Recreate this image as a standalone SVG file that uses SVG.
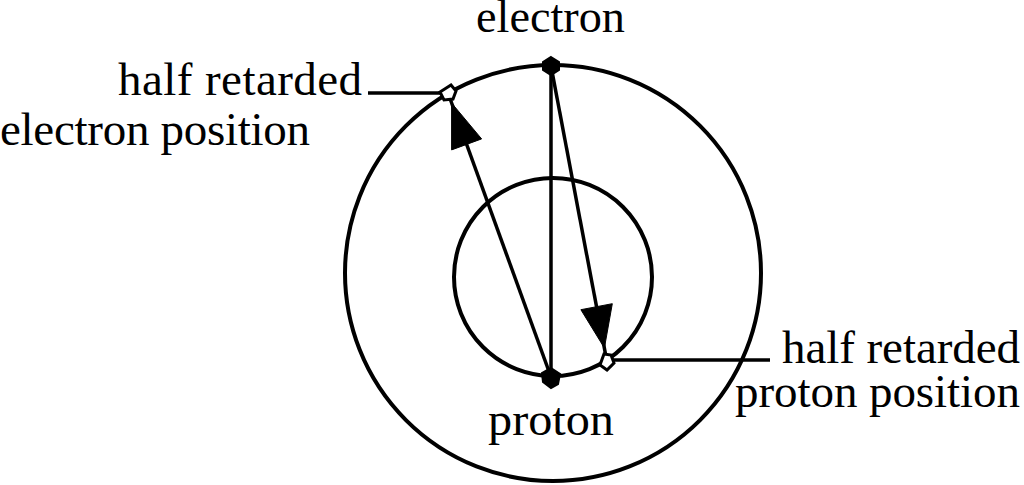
<svg xmlns="http://www.w3.org/2000/svg" width="1024" height="485" viewBox="0 0 1024 485">
<style>
.orbit{fill:none;stroke:#000;stroke-width:4}
.ln{fill:none;stroke:#000;stroke-width:3.5}
.ah{fill:#000;stroke:#000;stroke-width:1}
.t{font-family:"Liberation Serif","Times New Roman",serif;font-size:47px;fill:#000}
.dot{fill:#000;stroke:#000;stroke-width:2}
.open{fill:#fff;stroke:#000;stroke-width:3}
</style>
<rect width="1024" height="485" fill="#fff"/>
<g id="outer-orbit"><circle class="orbit" cx="553" cy="273" r="208"/></g>
<g id="inner-orbit"><circle class="orbit" cx="553" cy="277" r="99"/></g>
<g id="connectors">
<line class="ln" x1="551" y1="66" x2="551" y2="377"/>
<line class="ln" x1="551" y1="66" x2="607" y2="362"/>
<line class="ln" x1="551" y1="377" x2="448" y2="93"/>
<polygon class="ah" points="604.4,348 612.3,303.7 580.9,309.7"/>
<polygon class="ah" points="451.6,103 481.6,138.9 451.6,149.9"/>
<line class="ln" x1="368" y1="93" x2="442" y2="93"/>
<line class="ln" x1="613" y1="360" x2="770" y2="360"/>
</g>
<g id="electron">
<polygon class="dot" points="551,57 559,62 559,70 551,75 543,70 543,62"/>
<text class="t" x="476" y="32" textLength="149" lengthAdjust="spacingAndGlyphs">electron</text>
</g>
<g id="proton">
<polygon class="dot" points="551,368 560,374 558,384 551,388 543,382 542,373"/>
<text class="t" x="488" y="435" textLength="126" lengthAdjust="spacingAndGlyphs">proton</text>
</g>
<g id="half-retarded-electron">
<polygon class="open" points="451,85 456,91 453,99 444,100 440,92"/>
<text class="t" x="118" y="95" textLength="244" lengthAdjust="spacing">half retarded</text>
<text class="t" x="0" y="145" textLength="310" lengthAdjust="spacing">electron position</text>
</g>
<g id="half-retarded-proton">
<polygon class="open" points="604,354 611,355 614,363 607,370 600,365"/>
<text class="t" x="782" y="363" textLength="238" lengthAdjust="spacing">half retarded</text>
<text class="t" x="735" y="407" textLength="285" lengthAdjust="spacing">proton position</text>
</g>
</svg>
